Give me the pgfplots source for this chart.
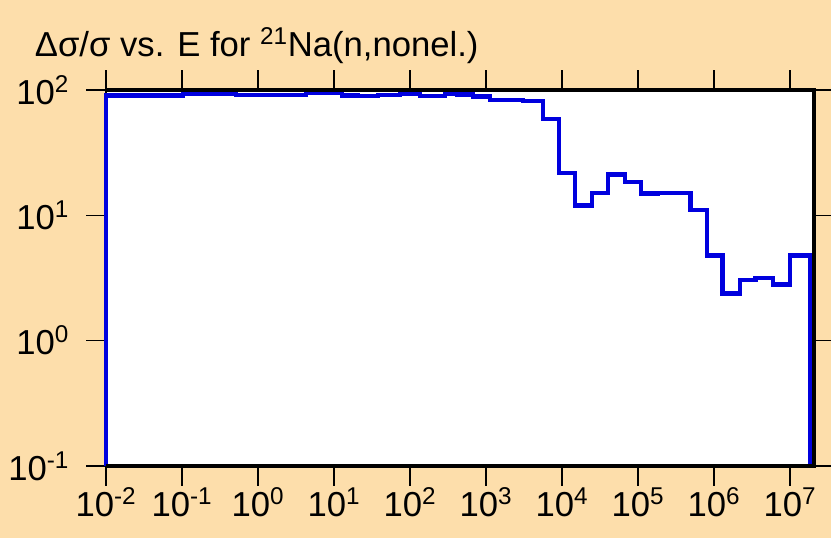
\documentclass[border=0pt]{standalone}
\usepackage{pgfplots}
\pgfplotsset{compat=1.18}
\usepackage{fontspec}
\setmainfont{Liberation Sans}
\definecolor{bgwheat}{RGB}{253,222,171}
\definecolor{lineblue}{RGB}{0,0,222}

\begin{document}
\begin{tikzpicture}
\fill[bgwheat] (0,0) rectangle (623.25pt,403.5pt);
\useasboundingbox (0,0) rectangle (623.25pt,403.5pt);
\node[anchor=base west, inner sep=0pt, font=\fontsize{26}{30}\selectfont] at (26pt,361pt)
  {Δσ/σ vs. E for \textsuperscript{21}Na(n,nonel.)};
\begin{axis}[
	at={(79.5pt,54pt)}, anchor=south west,
	scale only axis, width=531pt, height=282pt,
	xmode=log, ymode=log,
	xmin=0.01, xmax=2.07e7,
	ymin=0.1, ymax=100,
	xminorticks=false, yminorticks=false,
	axis background/.style={fill=white},
	axis line style={black, line width=1pt},
	tick align=outside,
	major tick length=15pt,
	tick style={black, line width=1.2pt},
	xtick={1e-2,1e-1,1,1e1,1e2,1e3,1e4,1e5,1e6,1e7},
	xticklabels={10\textsuperscript{-2},10\textsuperscript{-1},10\textsuperscript{0},10\textsuperscript{1},10\textsuperscript{2},10\textsuperscript{3},10\textsuperscript{4},10\textsuperscript{5},10\textsuperscript{6},10\textsuperscript{7}},
	ytick={0.1,1,10,100},
	yticklabels={10\textsuperscript{-1},10\textsuperscript{0},10\textsuperscript{1},10\textsuperscript{2}},
	ticklabel style={font=\fontsize{26}{30}\selectfont},
	xticklabel style={inner sep=1pt},
	yticklabel style={inner sep=0pt, xshift=-12.5pt},
	clip=false,
	]
	\addplot[const plot, lineblue, line width=3.3pt] coordinates {
		(0.01,0.1) (0.01,90.5) (0.103,94) (0.51,91.7) (4.3,95) (12.7,90.7)
		(20.7,89.5) (38,91) (74,93.8) (136,89.2) (289,93.8) (415,92)
		(676,88.7) (1120,82.9) (3070,81.7) (5600,58.9) (9100,21.8)
		(14900,12.0) (24600,15.1) (40300,21.2) (67000,18.4) (110000,14.9)
		(180000,15.0) (490000,11.0) (810000,4.79) (1.3e6,2.37) (2.2e6,3.05)
		(3.5e6,3.17) (6.0e6,2.80) (1e7,4.79) (1.86e7,4.79) (1.86e7,0.1)
	};
	\draw[line width=3pt, black] (rel axis cs:0,0) -- (rel axis cs:1,0)
		-- (rel axis cs:1,1) -- (rel axis cs:0,1);
\end{axis}
\end{tikzpicture}
\end{document}
